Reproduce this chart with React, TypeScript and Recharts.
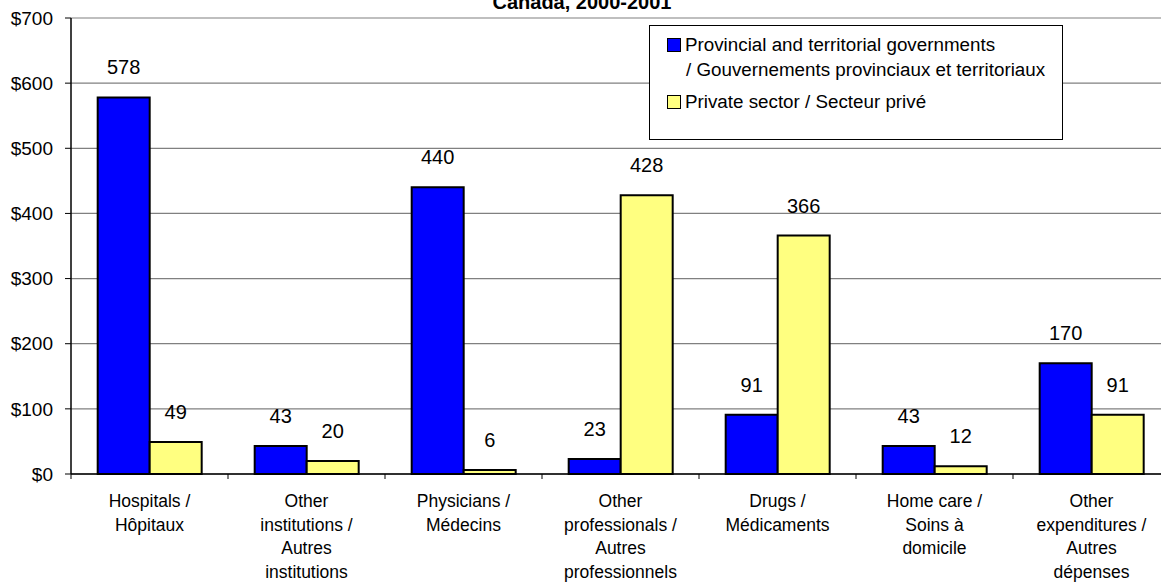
import React from 'react';
import { BarChart, Bar, XAxis, YAxis, CartesianGrid, Legend, LabelList } from 'recharts';

const categories = [
  'Hospitals /\nHôpitaux',
  'Other\ninstitutions /\nAutres\ninstitutions',
  'Physicians /\nMédecins',
  'Other\nprofessionals /\nAutres\nprofessionnels',
  'Drugs /\nMédicaments',
  'Home care /\nSoins à\ndomicile',
  'Other\nexpenditures /\nAutres\ndépenses',
];
const governmentValues = [578, 43, 440, 23, 91, 43, 170];
const privateValues = [49, 20, 6, 428, 366, 12, 91];
const yTicks = [0, 100, 200, 300, 400, 500, 600, 700];

const seriesNames = {
  gov: ['Provincial and territorial governments', '/ Gouvernements provinciaux et territoriaux'],
  priv: ['Private sector / Secteur privé'],
};

const data = categories.map((name, i) => ({
  name,
  gov: governmentValues[i],
  priv: privateValues[i],
}));

const FONT = '"Liberation Sans", Arial, sans-serif';
const BLUE = '#0000ff';
const YELLOW = '#ffff80';

function CategoryTick(props: any) {
  const { x, y, payload } = props;
  const lines = String(payload.value).split('\n');
  const half = payload.offset ?? 78.5;
  return (
    <g>
      <line x1={x - half} x2={x - half} y1={y - 8} y2={y - 3} stroke="#000" />
      <text x={x} y={y} textAnchor="middle" fontFamily={FONT} fontSize={17.5} fill="#000">
        {lines.map((l, i) => (
          <tspan key={i} x={x} dy={i === 0 ? 25 : 23.5}>
            {l}
          </tspan>
        ))}
      </text>
    </g>
  );
}

function LegendBox() {
  const swatch = (color: string) => (
    <span
      style={{
        display: 'inline-block',
        width: 12,
        height: 12,
        background: color,
        border: '1.5px solid #000',
        marginRight: 4,
        verticalAlign: -1,
      }}
    />
  );
  return (
    <div style={{ fontFamily: FONT, fontSize: 18.8, color: '#000', lineHeight: '25px', padding: '6px 0 0 17px' }}>
      <div>
        {swatch(BLUE)}
        {seriesNames.gov[0]}
      </div>
      <div style={{ paddingLeft: 19 }}>{seriesNames.gov[1]}</div>
      <div style={{ marginTop: 7 }}>
        {swatch(YELLOW)}
        {seriesNames.priv[0]}
      </div>
    </div>
  );
}

export default function App() {
  return (
    <div style={{ position: 'absolute', left: 0, top: 0, width: 1161, height: 582, overflow: 'hidden', background: '#fff' }}>
      <div
        style={{
          position: 'absolute',
          left: 432,
          top: -8,
          width: 300,
          textAlign: 'center',
          fontFamily: FONT,
          fontWeight: 'bold',
          fontSize: 20,
          lineHeight: '20px',
          zIndex: 2,
        }}
      >
        Canada, 2000-2001
      </div>
      <BarChart
        width={1180}
        height={582}
        data={data}
        margin={{ top: 18, right: 10, bottom: 0, left: 0 }}
        barCategoryGap="17%"
        barGap={0}
      >
        <CartesianGrid vertical={false} stroke="#808080" strokeWidth={1.2} />
        <XAxis
          dataKey="name"
          height={108}
          axisLine={{ stroke: '#000', strokeWidth: 1.5 }}
          tickLine={false}
          tick={<CategoryTick />}
          interval={0}
        />
        <YAxis
          width={71}
          domain={[0, 700]}
          ticks={yTicks}
          tickFormatter={(v) => `$${v}`}
          axisLine={{ stroke: '#000', strokeWidth: 1.5 }}
          tickLine={{ stroke: '#000' }}
          tickSize={6}
          tickMargin={12}
          tick={{ fill: '#000', fontSize: 19, fontFamily: FONT }}
        />
        <Legend
          layout="horizontal"
          verticalAlign="middle"
          align="center"
          content={<LegendBox />}
          wrapperStyle={{
            position: 'absolute',
            left: 649,
            top: 25,
            width: 414,
            height: 115,
            border: '1px solid #000',
            background: '#fff',
            boxSizing: 'border-box',
          }}
        />
        <Bar dataKey="gov" fill={BLUE} stroke="#000" strokeWidth={2} isAnimationActive={false}>
          <LabelList dataKey="gov" position="top" offset={23} fill="#000" fontSize={20} fontFamily={FONT} />
        </Bar>
        <Bar dataKey="priv" fill={YELLOW} stroke="#000" strokeWidth={2} isAnimationActive={false}>
          <LabelList dataKey="priv" position="top" offset={23} fill="#000" fontSize={20} fontFamily={FONT} />
        </Bar>
      </BarChart>
    </div>
  );
}
